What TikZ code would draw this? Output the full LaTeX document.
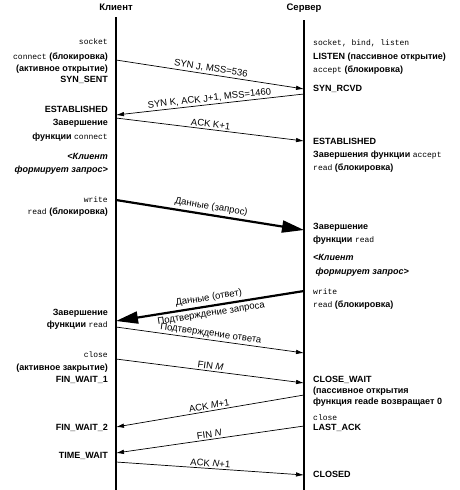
\documentclass[tikz,border=0pt]{standalone}
\usepackage{fontspec}
\setmainfont{Liberation Sans}
\setmonofont{Liberation Mono}
\usetikzlibrary{arrows.meta}
\newcommand\fn[1]{{\mdseries\ttfamily\fontsize{8}{10}\selectfont #1}}
\tikzset{
  side/.style={inner sep=0pt, font=\fontsize{9}{10}\selectfont\bfseries},
  cl/.style={side, anchor=mid east},
  sv/.style={side, anchor=mid west},
  head/.style={font=\fontsize{9.5}{10}\selectfont\bfseries},
  msg/.style={-{Latex[length=8pt,width=4.5pt]}, line width=0.7pt},
  data/.style={-{Triangle[length=22pt,width=12pt]}, line width=2.2pt},
  lab/.style={sloped, midway, inner sep=1.5pt, font=\fontsize{9.5}{10}\selectfont},
}
\begin{document}
\begin{tikzpicture}[x=1pt, y=-1pt]
   \useasboundingbox (0, 0) rectangle (459, 490);
   \def\xc{116}
   \def\xs{304}
   % time lines
   \node[head] (client) at (\xc, 7) {Клиент};
   \node[head] (server) at (\xs, 8) {Сервер};
   \coordinate (ctop) at (\xc, 17);
   \coordinate (cbot) at (\xc, 490);
   \coordinate (stop) at (\xs, 20);
   \coordinate (sbot) at (\xs, 490);
   \draw[line width=1.1pt] (ctop) -- (cbot);
   \draw[line width=1.1pt] (stop) -- (sbot);
   % client side
   \foreach \y/\t [count=\i] in {42/{\fn{socket}},
         57/{\fn{connect} (блокировка)},
         69/{(активное открытие)},
         80/{SYN\_SENT},
         110/{ESTABLISHED},
         123/{Завершение},
         137/{функции \fn{connect}},
         157/{\itshape <Клиент},
         170/{\itshape формирует запрос>},
         200/{\fn{write}},
         212/{\fn{read} (блокировка)},
         313/{Завершение},
         325/{функции \fn{read}},
         355/{\fn{close}},
         368/{(активное закрытие)},
         380/{FIN\_WAIT\_1},
         428/{FIN\_WAIT\_2},
         456/{TIME\_WAIT}} {
      \node[cl] (c\i) at (108, \y) {\t};
   }
   % server side
   \foreach \y/\t [count=\i] in {43/{\fn{socket, bind, listen}},
         57/{LISTEN (пассивное открытие)},
         70/{\fn{accept} (блокировка)},
         89/{SYN\_RCVD},
         142/{ESTABLISHED},
         155/{Завершения функции \fn{accept}},
         168/{\fn{read} (блокировка)},
         227/{Завершение},
         240/{функции \fn{read}},
         258/{\itshape <Клиент},
         272/{\itshape\ формирует запрос>},
         292/{\fn{write}},
         305/{\fn{read} (блокировка)},
         380/{CLOSE\_WAIT},
         391/{(пассивное открытия},
         402/{функция reade возвращает 0},
         418/{\fn{close}},
         428/{LAST\_ACK},
         475/{CLOSED}} {
      \node[sv] (s\i) at (313, \y) {\t};
   }
   % client -> server
   \foreach \ya/\yb/\t [count=\i] in {60/89/{SYN J, MSS=536},
         118/141/{ACK K+1},
         327/353/{Подтверждение ответа},
         359/383/{FIN \textit{M}},
         462/475/{ACK \textit{N}+1}} {
      \coordinate (ca\i) at (\xc, \ya);
      \coordinate (sa\i) at (\xs, \yb);
      \draw[msg] (ca\i) -- (sa\i) node[lab, above] (la\i) {\t};
   }
   % server -> client
   \foreach \ya/\yb/\t [count=\i] in {94/115/{SYN K, ACK J+1, MSS=1460},
         395/427/{ACK \textit{M}+1},
         426/453/{FIN \textit{N}}} {
      \coordinate (sb\i) at (\xs, \ya);
      \coordinate (cb\i) at (\xc, \yb);
      \draw[msg] (sb\i) -- (cb\i) node[lab, above] (lb\i) {\t};
   }
   % data
   \coordinate (cq) at (\xc, 200);
   \coordinate (sq) at (\xs, 230);
   \draw[data] (cq) -- (sq) node[lab, above, inner sep=2.5pt] (lq) {Данные (запрос)};
   \coordinate (sr) at (\xs, 291);
   \coordinate (cr) at (\xc, 321);
   \draw[data] (sr) -- (cr) node[lab, above, inner sep=2.5pt] (lr) {Данные (ответ)}
      node[lab, below, inner sep=2.5pt] (lr2) {Подтверждение запроса};
\end{tikzpicture}
\end{document}
